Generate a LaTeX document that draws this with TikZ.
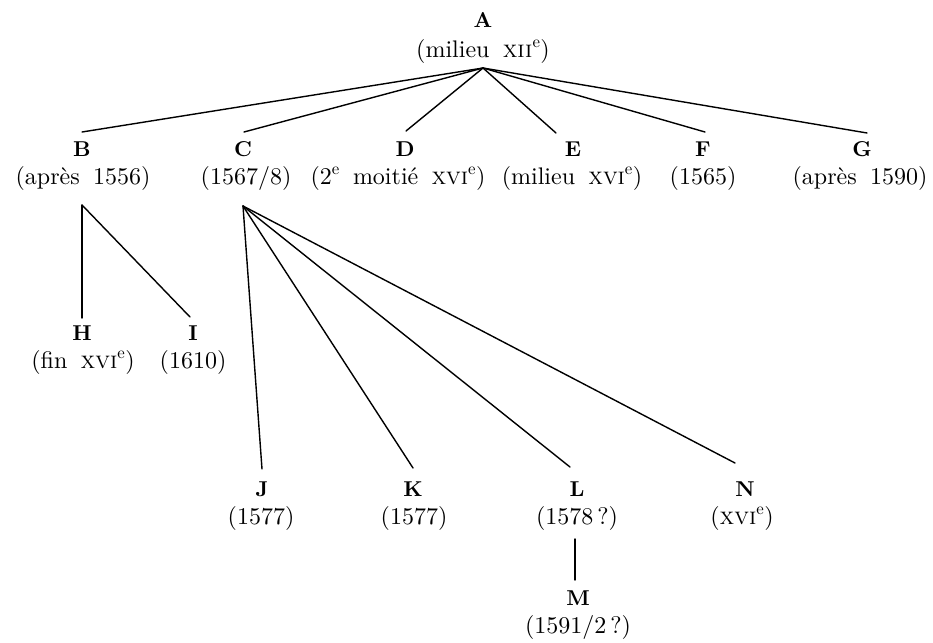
\documentclass[tikz,border=0pt]{standalone}
\usepackage{fontspec}
\setmainfont{lmroman10-regular.otf}[BoldFont=lmroman10-bold.otf,SmallCapsFont=lmromancaps10-regular.otf]
\usetikzlibrary{calc}
\newcommand{\sieclemark}[1]{\textsc{#1}\textsuperscript{e}}
\newcommand{\datfont}{\fontsize{24}{28}\selectfont\spaceskip=0.55em\relax}
\newcommand{\labfont}{\fontsize{21.5}{26}\selectfont\bfseries}
\begin{document}
\begin{tikzpicture}[x=1pt,y=-1pt,
  lab/.style={anchor=base,inner sep=0pt,font=\labfont},
  dat/.style={anchor=base,inner sep=0pt,font=\datfont},
  link/.style={line width=1.4pt,line cap=round}]
\useasboundingbox (0,0) rectangle (933,642);
% top
\node[lab] (A) at (483,28) {A};
\node[dat] (Ad) at (483,57) {(milieu \sieclemark{xii})};
% second row
\node[lab] (B) at (82,156) {B};
\node[dat] (Bd) at (83,184) {(après 1556)};
\node[lab] (C) at (243,156) {C};
\node[dat] (Cd) at (246,184) {(1567/8)};
\node[lab] (D) at (405,156) {D};
\node[dat] (Dd) at (398,184) {(2\textsuperscript{e} moitié \sieclemark{xvi})};
\node[lab] (E) at (573,156) {E};
\node[dat] (Ed) at (572,184) {(milieu \sieclemark{xvi})};
\node[lab] (F) at (703,156) {F};
\node[dat] (Fd) at (703,184) {(1565)};
\node[lab] (G) at (862,156) {G};
\node[dat] (Gd) at (860,184) {(après 1590)};
% B children
\node[lab] (H) at (82,340) {H};
\node[dat] (Hd) at (83,368) {(fin \sieclemark{xvi})};
\node[lab] (I) at (193,340) {I};
\node[dat] (Id) at (193,368) {(1610)};
% C children
\node[lab] (J) at (262,496) {J};
\node[dat] (Jd) at (261,524) {(1577)};
\node[lab] (K) at (413,496) {K};
\node[dat] (Kd) at (414,524) {(1577)};
\node[lab] (L) at (577,496) {L};
\node[dat] (Ld) at (577,524) {(1578\,?)};
\node[lab] (N) at (745,496) {N};
\node[dat] (Nd) at (742,524) {(\sieclemark{xvi})};
% L child
\node[lab] (M) at (578,605) {M};
\node[dat] (Md) at (578,633) {(1591/2\,?)};
% connectors
\draw[link] ($(Ad.base)+(0,11)$) -- ($(B.base)+(0,-24)$);
\draw[link] ($(Ad.base)+(0,11)$) -- ($(C.base)+(1,-24)$);
\draw[link] ($(Ad.base)+(0,11)$) -- ($(D.base)+(1,-25)$);
\draw[link] ($(Ad.base)+(0,11)$) -- ($(E.base)+(-17,-23)$);
\draw[link] ($(Ad.base)+(0,11)$) -- ($(F.base)+(2,-24)$);
\draw[link] ($(Ad.base)+(0,11)$) -- ($(G.base)+(5,-23)$);
\draw[link] ($(Bd.base)+(-1,21)$) -- ($(H.base)+(0,-22)$);
\draw[link] ($(Bd.base)+(-1,21)$) -- ($(I.base)+(-3,-23)$);
\draw[link] ($(Cd.base)+(-3,22)$) -- ($(J.base)+(0,-27)$);
\draw[link] ($(Cd.base)+(-3,22)$) -- ($(K.base)+(0,-28)$);
\draw[link] ($(Cd.base)+(-3,22)$) -- ($(L.base)+(-7,-29)$);
\draw[link] ($(Cd.base)+(-3,22)$) -- ($(N.base)+(-10,-33)$);
\draw[link] ($(Ld.base)+(-2,15)$) -- ($(M.base)+(-3,-25)$);
\end{tikzpicture}
\end{document}
